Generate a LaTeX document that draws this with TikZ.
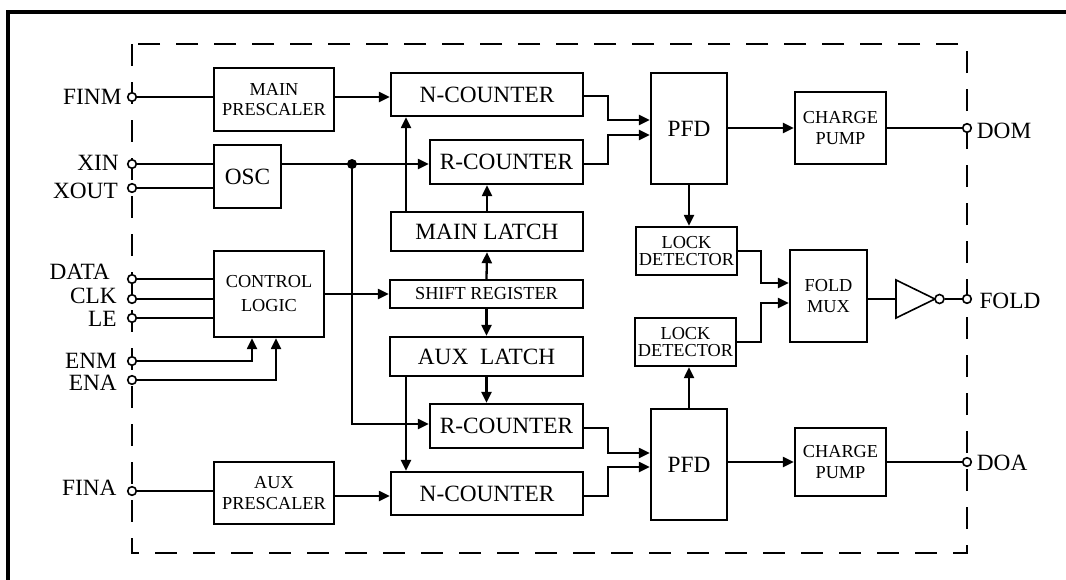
\documentclass[tikz,border=0pt]{standalone}
\usepackage{fontspec}
\setmainfont{Liberation Serif}
\usetikzlibrary{arrows.meta}
\begin{document}
\begin{tikzpicture}[x=1pt,y=-1pt,
  blk/.style={draw, line width=2.4pt, inner sep=0pt, align=center},
  big/.style={font=\fontsize{23.3}{28}\selectfont},
  sml/.style={font=\fontsize{18.3}{20.5}\selectfont},
  wire/.style={line width=2.3pt},
  arr/.style={line width=2.3pt, -{Triangle[length=11pt,width=10pt]}},
  pin/.style={circle, draw, fill=white, line width=1.6pt, minimum size=8.6pt, inner sep=0pt},
  lbl/.style={font=\fontsize{23.3}{28}\selectfont, inner sep=0pt},
]
\useasboundingbox (0,0) rectangle (1066,579);
% outer frame
\draw[line width=3.4pt] (8,600) -- (8,12) -- (1090,12);
% dashed chip outline
\draw[line width=2.6pt, dash pattern=on 22pt off 16pt] (132,44) rectangle (967,553);

% blocks
\node[blk, sml, minimum width=120pt, minimum height=63pt] (mainpre) at (274,99.5) {MAIN\\PRESCALER};
\node[blk, big, minimum width=67pt, minimum height=63pt] (osc) at (247.5,176.5) {OSC};
\node[blk, font=\fontsize{18.3}{24}\selectfont, minimum width=110pt, minimum height=86pt] (ctrl) at (269,294) {CONTROL\\LOGIC};
\node[blk, sml, minimum width=120pt, minimum height=62pt] (auxpre) at (274,493) {AUX\\PRESCALER};
\node[blk, big, minimum width=192pt, minimum height=43pt] (ncnt1) at (487,94.5) {N-COUNTER};
\node[blk, big, minimum width=153pt, minimum height=44pt] (rcnt1) at (506.5,162) {R-COUNTER};
\node[blk, big, minimum width=192pt, minimum height=39pt] (mlatch) at (487,231.5) {MAIN LATCH};
\node[blk, sml, minimum width=193pt, minimum height=28pt] (shreg) at (486.5,294) {SHIFT REGISTER};
\node[blk, big, minimum width=193pt, minimum height=39pt] (alatch) at (486.5,356.5) {AUX\ \ LATCH};
\node[blk, big, minimum width=153pt, minimum height=44pt] (rcnt2) at (506.5,426) {R-COUNTER};
\node[blk, big, minimum width=192pt, minimum height=43pt] (ncnt2) at (487,493.5) {N-COUNTER};
\node[blk, big, minimum width=76pt, minimum height=111pt] (pfd1) at (689,128.5) {PFD};
\node[blk, big, minimum width=76pt, minimum height=111pt] (pfd2) at (689,464.5) {PFD};
\node[blk, font=\fontsize{18.3}{17.7}\selectfont, minimum width=101pt, minimum height=48pt] (lock1) at (686.5,251) {LOCK\\DETECTOR};
\node[blk, font=\fontsize{18.3}{17.7}\selectfont, minimum width=101pt, minimum height=48pt] (lock2) at (685.5,342) {LOCK\\DETECTOR};
\node[blk, sml, minimum width=91pt, minimum height=72pt] (cp1) at (840.5,128) {CHARGE\\PUMP};
\node[blk, sml, minimum width=91pt, minimum height=68pt] (cp2) at (840.5,462) {CHARGE\\PUMP};
\node[blk, sml, minimum width=77pt, minimum height=92pt] (fmux) at (828.5,296) {FOLD\\MUX};

% inverter
\coordinate (invin) at (896,299);
\draw[line width=1.6pt] (896,280) -- (935,299) -- (896,318) -- cycle;

% pins
\node[pin] (pFINM) at (132,97) {};
\node[pin] (pXIN) at (132,164) {};
\node[pin] (pXOUT) at (132,188) {};
\node[pin] (pDATA) at (132,279) {};
\node[pin] (pCLK) at (132,299) {};
\node[pin] (pLE) at (132,318) {};
\node[pin] (pENM) at (132,361) {};
\node[pin] (pENA) at (132,380) {};
\node[pin] (pFINA) at (132,491) {};
\node[pin] (pDOM) at (967,128) {};
\node[pin] (pFOLD) at (967,299) {};
\node[pin] (pDOA) at (967,462) {};
\node[pin, minimum size=9pt] (bub) at (939.5,299) {};

% pin labels
\node[lbl, anchor=base east] (tFINM) at (121.7,104) {FINM};
\node[lbl, anchor=base east] (tXIN) at (119,170) {XIN};
\node[lbl, anchor=base east] (tXOUT) at (118,198.3) {XOUT};
\node[lbl, anchor=base east] (tDATA) at (110,279.3) {DATA};
\node[lbl, anchor=base east] (tCLK) at (117,303.3) {CLK};
\node[lbl, anchor=base east] (tLE) at (116.7,326.7) {LE};
\node[lbl, anchor=base east] (tENM) at (117,368.3) {ENM};
\node[lbl, anchor=base east] (tENA) at (117,390) {ENA};
\node[lbl, anchor=base east] (tFINA) at (116.7,495) {FINA};
\node[lbl, anchor=base west] (tDOM) at (976.7,138.3) {DOM};
\node[lbl, anchor=base west] (tFOLD) at (979.3,308.3) {FOLD};
\node[lbl, anchor=base west] (tDOA) at (976.7,470.7) {DOA};

% input wiring
\draw[wire] (pFINM) -- (pFINM -| mainpre.west);
\draw[arr] (mainpre.east |- pFINM) -- (ncnt1.west |- pFINM);
\draw[wire] (pXIN) -- (pXIN -| osc.west);
\draw[wire] (pXOUT) -- (pXOUT -| osc.west);
\draw[wire] (pDATA) -- (pDATA -| ctrl.west);
\draw[wire] (pCLK) -- (pCLK -| ctrl.west);
\draw[wire] (pLE) -- (pLE -| ctrl.west);
\draw[arr] (pENM) -| ([xshift=-17pt]ctrl.south);
\draw[arr] (pENA) -| ([xshift=7pt]ctrl.south);
\draw[wire] (pFINA) -- (pFINA -| auxpre.west);
\draw[arr] ([yshift=-3pt]auxpre.east) -- ([yshift=-3pt]auxpre.east -| ncnt2.west);

% oscillator distribution
\node[circle, fill, minimum size=10pt, inner sep=0pt] (jn) at (352,164) {};
\draw[arr] (osc.east |- pXIN) -- (rcnt1.west |- pXIN);
\draw[arr] (jn.center) |- ([yshift=2pt]rcnt2.west);

% control / latches
\draw[arr] (ctrl.east) -- (shreg.west);
\draw[arr] (shreg.north) -- (mlatch.south);
\draw[arr] ([xshift=-81pt]mlatch.north) -- ([xshift=-81pt]mlatch.north |- ncnt1.south);
\draw[arr] (mlatch.north) -- (mlatch.north |- rcnt1.south);
\draw[arr] (shreg.south) -- (alatch.north);
\draw[arr] (alatch.south) -- (alatch.south |- rcnt2.north);
\draw[arr] ([xshift=-80.5pt]alatch.south) -- ([xshift=-80.5pt]alatch.south |- ncnt2.north);

% counters to PFDs
\draw[arr] ([yshift=-1.5pt]ncnt1.east) -- ++(24,0) |- ([yshift=8.5pt]pfd1.west);
\draw[arr] ([yshift=-2pt]rcnt1.east) -- ++(24,0) |- ([yshift=-6.5pt]pfd1.west);
\draw[arr] ([yshift=-2pt]rcnt2.east) -- ++(24,0) |- ([yshift=11.5pt]pfd2.west);
\draw[arr] ([yshift=-2.5pt]ncnt2.east) -- ++(24,0) |- ([yshift=-2.5pt]pfd2.west);

% PFD outputs
\draw[arr] (pfd1.east |- cp1.west) -- (cp1.west);
\draw[wire] (cp1.east) -- (pDOM);
\draw[arr] (pfd2.east |- cp2.west) -- (cp2.west);
\draw[wire] (cp2.east) -- (pDOA);
\draw[arr] (pfd1.south) -- (pfd1.south |- lock1.north);
\draw[arr] (pfd2.north) -- (pfd2.north |- lock2.south);

% lock detect / fold
\draw[arr] (lock1.east) -- ++(23,0) |- ([yshift=13pt]fmux.west);
\draw[arr] (lock2.east) -- ++(24,0) |- ([yshift=-7pt]fmux.west);
\draw[wire] ([yshift=-3pt]fmux.east) -- (invin);
\draw[wire] (bub) -- (pFOLD);
\end{tikzpicture}
\end{document}
